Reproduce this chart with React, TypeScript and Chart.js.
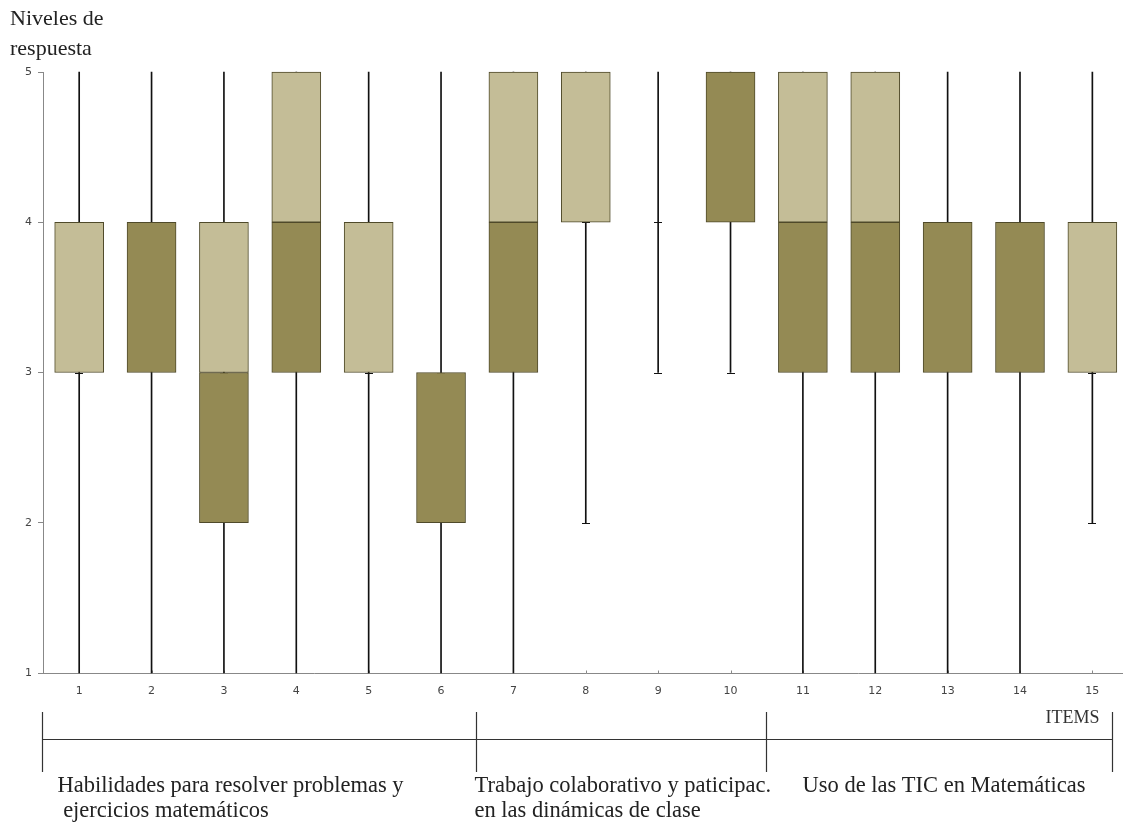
import React, { useEffect, useRef } from "react";
import { Chart, registerables } from "chart.js";

Chart.register(...registerables);

const ITEMS = [1, 2, 3, 4, 5, 6, 7, 8, 9, 10, 11, 12, 13, 14, 15];
const MIN_V = [1, 1, 1, 1, 1, 1, 1, 2, 3, 3, 1, 1, 1, 1, 2];
const Q1 = [3, 3, 2, 3, 3, 2, 3, 4, 4, 4, 3, 3, 3, 3, 3];
const MED = [3, 4, 3, 4, 3, 3, 4, 4, 4, 5, 4, 4, 4, 4, 3];
const Q3 = [4, 4, 4, 5, 4, 3, 5, 5, 4, 5, 5, 5, 4, 4, 4];
const MAX_V = [5, 5, 5, 5, 5, 5, 5, 5, 5, 5, 5, 5, 5, 5, 5];
const Y_TICKS = [1, 2, 3, 4, 5];

const Y_TITLE = ["Niveles de", "respuesta"];
const X_TITLE = "ITEMS";
const GROUP_BOUNDS = [0.5, 6.5, 10.5, 15.28];
const GROUP_LABELS = [
  ["Habilidades para resolver problemas y", " ejercicios matemáticos"],
  ["Trabajo colaborativo y paticipac.", "en las dinámicas de clase"],
  ["Uso de las TIC en Matemáticas"],
];
const GROUP_TEXT_OFFSETS = [15, -2, 36];

const LIGHT = "#C4BD97";
const DARK = "#948A54";
const EDGE = "#4F4A2A";

const SERIF = "'Liberation Serif', 'Times New Roman', serif";
const SANS = "'DejaVu Sans', Verdana, sans-serif";

const extrasPlugin = {
  id: "extras",
  beforeDatasetsDraw(chart: any) {
    const { ctx, scales, chartArea } = chart;
    const x = scales.x;
    const y = scales.y;
    ctx.save();
    ctx.strokeStyle = "#888";
    ctx.lineWidth = 1;
    const ay = Math.round(chartArea.bottom) + 0.5;
    ctx.beginPath();
    ctx.moveTo(chartArea.left, ay);
    ctx.lineTo(chart.width, ay);
    ctx.stroke();
    ITEMS.forEach((it) => {
      const px = Math.round(x.getPixelForValue(it)) + 0.5;
      ctx.beginPath();
      ctx.moveTo(px, ay - 3);
      ctx.lineTo(px, ay);
      ctx.stroke();
    });
    ctx.strokeStyle = "#111";
    ctx.lineWidth = 1;
    ITEMS.forEach((it, i) => {
      const px = Math.round(x.getPixelForValue(it));
      [MIN_V[i], MAX_V[i], MED[i]].forEach((v) => {
        if (v <= y.min || v >= y.max) return;
        const py = Math.round(y.getPixelForValue(v)) + 0.5;
        ctx.beginPath();
        ctx.moveTo(px - 4, py);
        ctx.lineTo(px + 4, py);
        ctx.stroke();
      });
    });
    ctx.restore();
  },
  afterDraw(chart: any) {
    const { ctx, scales, chartArea } = chart;
    const x = scales.x;
    ctx.save();
    ctx.fillStyle = "#222";
    ctx.font = `22px ${SERIF}`;
    ctx.textBaseline = "alphabetic";
    ctx.textAlign = "left";
    ctx.fillText(Y_TITLE[0], 10, 25);
    ctx.fillText(Y_TITLE[1], 10, 55);

    const lineY = chartArea.bottom + 66.5;
    const top = chartArea.bottom + 39;
    const bottom = chartArea.bottom + 99;
    ctx.strokeStyle = "#333";
    ctx.lineWidth = 1.2;
    const bx = GROUP_BOUNDS.map((b) => Math.round(x.getPixelForValue(b)) - 0.5);
    ctx.beginPath();
    ctx.moveTo(bx[0], lineY);
    ctx.lineTo(bx[bx.length - 1], lineY);
    bx.forEach((p) => {
      ctx.moveTo(p, top);
      ctx.lineTo(p, bottom);
    });
    ctx.stroke();

    ctx.font = `18px ${SERIF}`;
    ctx.textAlign = "right";
    ctx.fillStyle = "#333";
    ctx.fillText(X_TITLE, bx[bx.length - 1] - 13, chartArea.bottom + 50);

    ctx.font = `22.5px ${SERIF}`;
    ctx.textAlign = "left";
    ctx.fillStyle = "#222";
    GROUP_LABELS.forEach((lines, g) => {
      const lx = bx[g] + GROUP_TEXT_OFFSETS[g];
      lines.forEach((t, k) => {
        ctx.fillText(t, lx, chartArea.bottom + 119 + k * 25);
      });
    });
    ctx.restore();
  },
};

export default function App() {
  const ref = useRef<HTMLCanvasElement>(null);
  useEffect(() => {
    if (!ref.current) return;
    const lower = ITEMS.map((it, i) => ({ x: it, y: [Q1[i], MED[i]] }));
    const upper = ITEMS.map((it, i) => ({ x: it, y: [MED[i], Q3[i]] }));
    const whisk = ITEMS.map((it, i) => ({ x: it, y: [MIN_V[i], MAX_V[i]] }));
    const chart = new Chart(ref.current, {
      type: "bar",
      data: {
        datasets: [
          {
            label: "whisker",
            data: whisk as any,
            backgroundColor: "#111",
            borderWidth: 0,
            barThickness: 1,
            grouped: false,
            clip: false,
            order: 3,
          } as any,
          {
            label: "lower",
            data: lower as any,
            backgroundColor: DARK,
            borderColor: EDGE,
            borderWidth: 1,
            borderSkipped: false,
            barThickness: 49,
            grouped: false,
            clip: false,
            order: 2,
          } as any,
          {
            label: "upper",
            data: upper as any,
            backgroundColor: LIGHT,
            borderColor: EDGE,
            borderWidth: 1,
            borderSkipped: false,
            barThickness: 49,
            grouped: false,
            clip: false,
            order: 1,
          } as any,
        ],
      },
      options: {
        animation: false,
        responsive: true,
        maintainAspectRatio: false,
        layout: { padding: { top: 72, left: 0, right: 0, bottom: 0 } },
        plugins: { legend: { display: false }, tooltip: { enabled: false } },
        scales: {
          x: {
            type: "linear",
            offset: false,
            min: 0.5,
            max: 15.52,
            afterBuildTicks: (s: any) => {
              s.ticks = ITEMS.map((v) => ({ value: v }));
            },
            afterFit: (s: any) => {
              s.height = 154;
            },
            grid: { display: false, drawTicks: false },
            border: { display: false },
            ticks: {
              padding: 12,
              autoSkip: false,
              maxRotation: 0,
              color: "#444",
              font: { family: SANS, size: 11 },
            },
          },
          y: {
            type: "linear",
            min: 1,
            max: 5,
            afterBuildTicks: (s: any) => {
              s.ticks = Y_TICKS.map((v) => ({ value: v }));
            },
            afterFit: (s: any) => {
              s.width = 43;
            },
            grid: { display: true, drawOnChartArea: false, tickLength: 5, color: "#888" },
            border: { color: "#888", width: 1 },
            ticks: {
              padding: 6,
              color: "#444",
              font: { family: SANS, size: 11 },
            },
          },
        },
      } as any,
      plugins: [extrasPlugin],
    });
    return () => chart.destroy();
  }, []);
  return (
    <div style={{ position: "fixed", left: 0, top: 0, width: 1130, height: 827 }}>
      <canvas ref={ref} />
    </div>
  );
}
